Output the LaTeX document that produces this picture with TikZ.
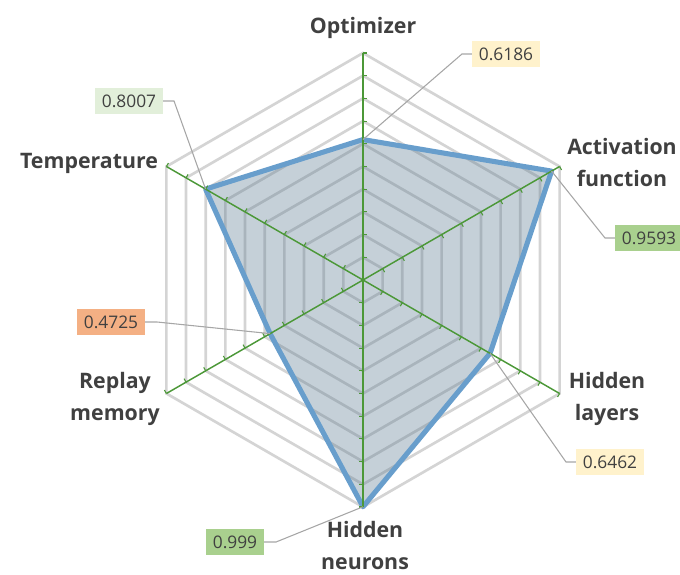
\documentclass[tikz,border=0pt]{standalone}
\usepackage{fontspec}
\setmainfont{Open Sans}
\usetikzlibrary{calc, positioning}

\definecolor{gridgray}{RGB}{212,212,212}
\definecolor{axisgreen}{RGB}{76,152,56}
\definecolor{seriesblue}{RGB}{104,158,204}
\definecolor{seriesfill}{RGB}{89,121,144}
\definecolor{labelgray}{RGB}{64,64,64}
\definecolor{leadergray}{RGB}{166,166,166}
\definecolor{boxyellow}{RGB}{255,242,204}
\definecolor{boxlightgreen}{RGB}{226,239,218}
\definecolor{boxgreen}{RGB}{169,208,142}
\definecolor{boxorange}{RGB}{244,176,132}

\begin{document}
\begin{tikzpicture}[x=0.75pt, y=0.75pt,
    axislabel/.style={font=\bfseries\fontsize{16}{24}\selectfont, text=labelgray, align=center, inner sep=1pt},
    valuebox/.style={font=\fontsize{13}{15}\selectfont, text=labelgray, inner xsep=5pt, inner ysep=5pt},
    gridline/.style={gridgray, line width=2pt},
    axisline/.style={axisgreen, line width=1.1pt},
    leader/.style={leadergray, line width=0.8pt}]

    % =================================================================
    % 1. KHUNG HINH VA TOA DO CAC DINH
    % =================================================================
    \useasboundingbox (-363,-294) rectangle (317,280);

    % ban kinh ung voi gia tri 1
    \def\R{227}

    \coordinate (O) at (0,0);
    \coordinate (optV) at (90:0.6186*\R);
    \coordinate (actV) at (30:0.9593*\R);
    \coordinate (layV) at (-30:0.6462*\R);
    \coordinate (neuV) at (-90:0.999*\R);
    \coordinate (repV) at (-150:0.4725*\R);
    \coordinate (tempV) at (150:0.8007*\R);

    % =================================================================
    % 2. LUOI LUC GIAC (10 MUC)
    % =================================================================
    \foreach \k in {1,...,10}
        \draw[gridline] (90:\k*22.7) -- (30:\k*22.7) -- (-30:\k*22.7)
            -- (-90:\k*22.7) -- (-150:\k*22.7) -- (150:\k*22.7) -- cycle;

    % =================================================================
    % 3. VUNG DU LIEU
    % =================================================================
    \fill[seriesfill, fill opacity=0.35]
        (optV) -- (actV) -- (layV) -- (neuV) -- (repV) -- (tempV) -- cycle;
    \draw[seriesblue, line width=3.8pt, line join=round]
        (optV) -- (actV) -- (layV) -- (neuV) -- (repV) -- (tempV) -- cycle;

    % =================================================================
    % 4. CAC TRUC VA VACH CHIA
    % =================================================================
    \foreach \a in {90,30,-30,-90,-150,150} {
        \draw[axisline] (O) -- (\a:\R);
        \foreach \k in {1,...,10}
            \draw[axisline, line width=0.8pt] (\a:\k*22.7) -- ++(\a-90:4);
    }

    % =================================================================
    % 5. NHAN CAC TRUC
    % =================================================================
    \node[axislabel] (optL) at (0,252) {Optimizer};
    \node[axislabel] (actL) at (259,117) {Activation\\function};
    \node[axislabel] (layL) at (244,-119) {Hidden\\layers};
    \node[axislabel] (neuL) at (2,-265) {Hidden\\neurons};
    \node[axislabel] (repL) at (-248,-119) {Replay\\memory};
    \node[axislabel] (tempL) at (-274,117) {Temperature};

    % =================================================================
    % 6. O GIA TRI VA DUONG DAN
    % =================================================================
    \node[valuebox, fill=boxyellow] (v6186) at (143,226) {0.6186};
    \node[valuebox, fill=boxgreen] (v9593) at (286,42) {0.9593};
    \node[valuebox, fill=boxyellow] (v6462) at (247,-182) {0.6462};
    \node[valuebox, fill=boxgreen] (v999) at (-128,-262) {0.999};
    \node[valuebox, fill=boxorange] (v4725) at (-252,-42) {0.4725};
    \node[valuebox, fill=boxlightgreen] (v8007) at (-234,179) {0.8007};

    \draw[leader] (optV) -- ($(v6186.west)+(-10,0)$) -- (v6186.west);
    \draw[leader] (actV) -- ($(v9593.west)+(-10,0)$) -- (v9593.west);
    \draw[leader] (layV) -- ($(v6462.west)+(-10,0)$) -- (v6462.west);
    \draw[leader] (neuV) -- ($(v999.east)+(12,0)$) -- (v999.east);
    \draw[leader] (repV) -- ($(v4725.east)+(12,0)$) -- (v4725.east);
    \draw[leader] (tempV) -- ($(v8007.east)+(11,0)$) -- (v8007.east);

\end{tikzpicture}
\end{document}
